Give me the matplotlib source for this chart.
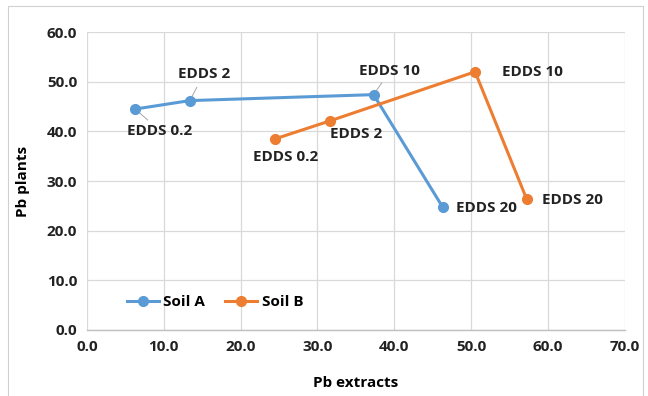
import matplotlib.pyplot as plt
import matplotlib.patches as patches

plt.rcParams['font.family'] = ['Open Sans', 'DejaVu Sans']

# Daten
soil_a_x = [6.3, 13.4, 37.3, 46.3]
soil_a_y = [44.5, 46.2, 47.4, 24.7]
soil_b_x = [24.5, 31.6, 50.5, 57.2]
soil_b_y = [38.5, 42.1, 52.0, 26.4]
labels = ["EDDS 0.2", "EDDS 2", "EDDS 10", "EDDS 20"]

# Positionen der Beschriftungen (Datenkoordinaten)
label_pos_a = [(9.5, 40.1), (15.2, 51.5), (39.4, 52.1), (52.0, 24.6)]
label_pos_b = [(25.9, 34.8), (35.0, 39.5), (58.0, 51.9), (63.1, 26.2)]
leader_a = [True, True, True, False]

blue = "#5B9BD5"
orange = "#ED7D31"
fs = 11

fig = plt.figure(figsize=(6.48, 3.96), dpi=100)
ax = fig.add_axes([0.134, 0.1667, 0.8305, 0.7523])

# Rahmen um die Grafik
fig.patches.append(patches.Rectangle((0.012, -0.02), 0.98, 1.005, transform=fig.transFigure,
                                     fill=False, edgecolor="#D0D0D0", linewidth=0.8))

ax.plot(soil_a_x, soil_a_y, color=blue, marker="o", markersize=7, linewidth=2.2, label="Soil A", zorder=3)
ax.plot(soil_b_x, soil_b_y, color=orange, marker="o", markersize=7, linewidth=2.2, label="Soil B", zorder=3)

for i, lab in enumerate(labels):
    tx, ty = label_pos_a[i]
    if leader_a[i]:
        px, py = soil_a_x[i], soil_a_y[i]
        ax.plot([px, px + (tx - px) * 0.5], [py, py + (ty - py) * 0.5], color="#A6A6A6",
                linewidth=0.7, zorder=2)
    ax.text(tx, ty, lab, ha="center", va="center", fontsize=fs, fontweight="bold", color="#222222")
    bx, by = label_pos_b[i]
    ax.text(bx, by, lab, ha="center", va="center", fontsize=fs, fontweight="bold", color="#222222")

ax.set_xlim(0, 70)
ax.set_ylim(0, 60)
ax.set_xticks(range(0, 71, 10))
ax.set_yticks(range(0, 61, 10))
ax.set_xticklabels([f"{v:.1f}" for v in range(0, 71, 10)])
ax.set_yticklabels([f"{v:.1f}" for v in range(0, 61, 10)])
for t in ax.get_xticklabels() + ax.get_yticklabels():
    t.set_fontweight("bold")
    t.set_fontsize(fs)
    t.set_color("#222222")
ax.tick_params(length=0, pad=7)

ax.grid(True, color="#D9D9D9", linewidth=0.9)
ax.set_axisbelow(True)
for side in ["top", "right", "left"]:
    ax.spines[side].set_visible(False)
ax.spines["bottom"].set_color("#BFBFBF")
ax.spines["bottom"].set_linewidth(1.0)

ax.set_xlabel("Pb extracts", fontsize=11, fontweight="bold", labelpad=16)
ax.set_ylabel("Pb plants", fontsize=11, fontweight="bold", labelpad=12)

ax.legend(loc="center", bbox_to_anchor=(0.238, 0.094), ncol=2, frameon=False,
          prop={"weight": "bold", "size": fs}, handlelength=2.1, columnspacing=1.3, handletextpad=0.3)

fig.savefig("out.png", dpi=100)
